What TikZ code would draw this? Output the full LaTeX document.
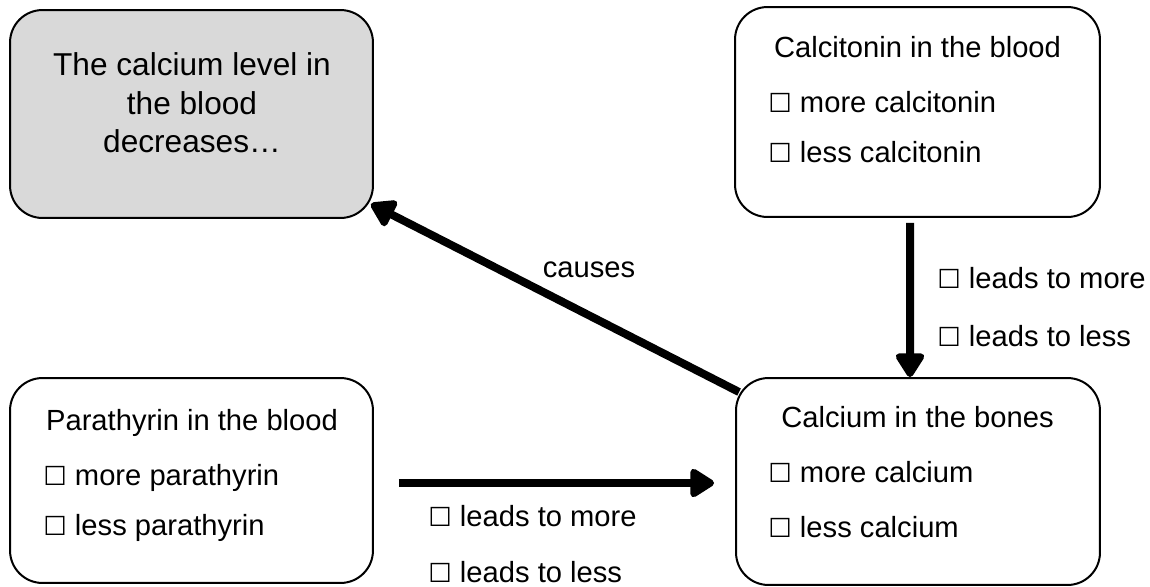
\documentclass[tikz,border=0pt]{standalone}
\usepackage{fontspec}
\setmainfont{Liberation Sans}
\newfontfamily\boxfont{DejaVu Sans}
\usetikzlibrary{arrows.meta}
\newcommand{\tick}{{\boxfont\scalebox{0.9}{☐}}}
\tikzset{
  card/.style={draw, line width=0.04cm, rounded corners=0.65cm},
  txt/.style={inner sep=0pt, font=\fontsize{16.6}{20}\selectfont},
  arr/.style={line width=0.16cm, -{Triangle[length=0.54cm,width=0.64cm,round]}}
}
\begin{document}
\begin{tikzpicture}[x=0.02cm, y=-0.02cm]
        \useasboundingbox (0,0) rectangle (1150,586);
        % \draw[step=50,gray,very thin] (0,0) grid (1150,586);

        % boxes
        \node[card, fill=black!15, minimum width=7.26cm, minimum height=4.16cm] (level) at (191.5,114) {};
        \node[card, minimum width=7.3cm, minimum height=4.2cm] (calcitonin) at (917.5,112) {};
        \node[card, minimum width=7.26cm, minimum height=4.1cm] (parathyrin) at (191.5,480.5) {};
        \node[card, minimum width=7.28cm, minimum height=4.14cm] (bones) at (918,481.5) {};

        % level
        \node[txt, align=center, font=\fontsize{18}{22}\selectfont] (leveltext) at (192,103) {The calcium level in\\the blood\\decreases…};

        % calcitonin
        \node[txt, anchor=base] (ctitle) at (917.5,57) {Calcitonin in the blood};
        \node[txt, anchor=base west] (cmore) at (768,112) {\tick{} more calcitonin};
        \node[txt, anchor=base west] (cless) at (768,162) {\tick{} less calcitonin};

        % parathyrin
        \node[txt, anchor=base] (ptitle) at (192,430) {Parathyrin in the blood};
        \node[txt, anchor=base west] (pmore) at (43,485) {\tick{} more parathyrin};
        \node[txt, anchor=base west] (pless) at (43,535) {\tick{} less parathyrin};

        % bones
        \node[txt, anchor=base] (btitle) at (917.5,427) {Calcium in the bones};
        \node[txt, anchor=base west] (bmore) at (768,482) {\tick{} more calcium};
        \node[txt, anchor=base west] (bless) at (768,537) {\tick{} less calcium};

        % arrows
        \draw[arr] ([xshift=-0.15cm,yshift=-0.1cm]calcitonin.south) -- ([xshift=-0.16cm]bones.north);
        \draw[arr] ([xshift=0.5cm,yshift=-0.05cm]parathyrin.east) -- ([xshift=-0.42cm,yshift=-0.03cm]bones.west);
        \draw[arr] ([shift={(0.08cm,-0.3cm)}]bones.north west) -- ([shift={(-0.06cm,0.3cm)}]level.south east);

        % arrow labels
        \node[txt, anchor=base west] (vmore) at (937,288) {\tick{} leads to more};
        \node[txt, anchor=base west] (vless) at (937,346) {\tick{} leads to less};
        \node[txt, anchor=base west] (hmore) at (428,526) {\tick{} leads to more};
        \node[txt, anchor=base west] (hless) at (428,582) {\tick{} leads to less};
        \node[txt, anchor=base] (causes) at (589,277) {causes};

      \end{tikzpicture}
\end{document}
